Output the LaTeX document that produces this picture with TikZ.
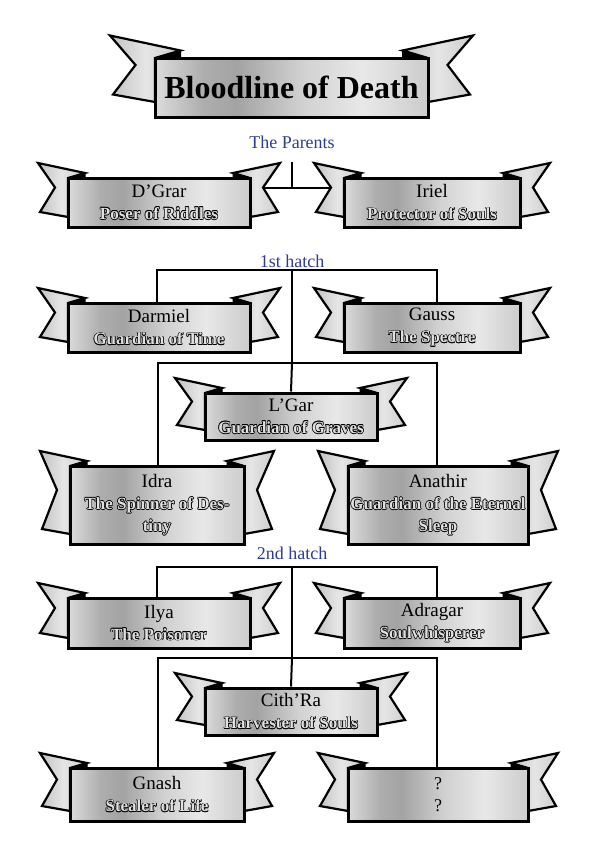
\documentclass[tikz,border=0pt]{standalone}
\usepackage{fontspec}
\setmainfont{Liberation Serif}
\usetikzlibrary{calc}
\pgfdeclarelayer{background}
\pgfsetlayers{background,main}
\definecolor{lblue}{HTML}{2E3C96}
\pgfdeclarehorizontalshading{silverbox}{100bp}{color(0bp)=(black!14); color(25bp)=(black!14); color(34bp)=(black!32); color(40bp)=(black!36); color(52bp)=(black!18); color(63bp)=(black!9); color(75bp)=(black!20); color(100bp)=(black!20)}
\pgfdeclarehorizontalshading{silvertail}{100bp}{color(0bp)=(black!24); color(25bp)=(black!24); color(50bp)=(black!10); color(75bp)=(black!20); color(100bp)=(black!20)}
\newcommand\outl[1]{{\setbox0\hbox{#1}%
  \rlap{\kern.6pt\color{black}\copy0}\rlap{\kern-.6pt\color{black}\copy0}%
  \rlap{\raise.6pt\hbox{\color{black}\copy0}}\rlap{\lower.6pt\hbox{\color{black}\copy0}}%
  \rlap{\kern.45pt\raise.45pt\hbox{\color{black}\copy0}}\rlap{\kern-.45pt\raise.45pt\hbox{\color{black}\copy0}}%
  \rlap{\kern.45pt\lower.45pt\hbox{\color{black}\copy0}}\rlap{\kern-.45pt\lower.45pt\hbox{\color{black}\copy0}}%
  {\color{black!12}\copy0}}}
\newcommand\namef{\fontsize{19}{22}\selectfont}
\newcommand\subf[1]{{\fontsize{17}{22}\selectfont\bfseries\outl{#1}}}
\newcommand\titlef{\fontsize{32}{36}\selectfont\bfseries}
\tikzset{
  x=1pt, y=-1pt,
  tail/.style={draw=black, line width=2.2pt, line join=miter, shading=silvertail},
  fold/.style={fill=black, draw=black, line width=1pt, line join=round},
  box/.style={draw=black, line width=3pt, shading=silverbox, inner sep=0pt, align=center,
    font=\fontsize{17}{22}\selectfont},
  lbl/.style={text=lblue, font=\fontsize{18}{18}\selectfont, inner sep=1pt},
  link/.style={draw=black, line width=2pt}
}
% #1 tail scale, #2 name, #3 cx, #4 cy, #5 width, #6 height, #7 text
\newcommand\banner[7][1]{%
  \pgfmathsetmacro\bL{#3-#5/2}%
  \pgfmathsetmacro\bR{#3+#5/2}%
  \pgfmathsetmacro\bT{#4-#6/2}%
  \pgfmathsetmacro\bB{#4+#6/2}%
  \pgfmathsetmacro\ts{#1}%
  \pgfmathsetmacro\bN{(\bT+\bB)/2-15*\ts}%
  \path[tail] (\bL+17*\ts,\bT-5*\ts) -- (\bL-30*\ts,\bT-15*\ts) -- (\bL-13*\ts,\bN)
     -- (\bL-28*\ts,\bB-15*\ts) -- (\bL,\bB-10*\ts) -- (\bL,\bT) -- cycle;
  \path[fold] (\bL,\bT) -- (\bL+17*\ts,\bT-5*\ts) -- (\bL+17*\ts,\bT) -- cycle;
  \path[tail] (\bR-17*\ts,\bT-5*\ts) -- (\bR+30*\ts,\bT-15*\ts) -- (\bR+13*\ts,\bN)
     -- (\bR+28*\ts,\bB-15*\ts) -- (\bR,\bB-10*\ts) -- (\bR,\bT) -- cycle;
  \path[fold] (\bR,\bT) -- (\bR-17*\ts,\bT-5*\ts) -- (\bR-17*\ts,\bT) -- cycle;
  \node[box, minimum width=#5 pt, minimum height=#6 pt] (#2) at (#3,#4) {#7};
}
\begin{document}
\begin{tikzpicture}
\useasboundingbox (0,0) rectangle (596,865);

% title
\banner[1.5]{title}{291.5}{87.5}{273}{59}{\titlef Bloodline of Death}

% parents
\node[lbl] (parents) at (292,142) {The Parents};
\banner{dgrar}{159}{202.5}{182}{49}{{\namef D'Grar}\\\subf{Poser of Riddles}}
\banner{iriel}{432}{202.5}{176}{49}{{\namef Iriel}\\\subf{Protector of Souls}}

% 1st hatch
\node[lbl] (hatch1) at (292,261) {1st hatch};
\banner{darmiel}{159}{327.5}{182}{49}{{\namef Darmiel}\\\subf{Guardian of Time}}
\banner{gauss}{432}{327.5}{176}{49}{{\namef Gauss}\\\subf{The Spectre}}
\banner{lgar}{291}{416.5}{172}{47}{{\namef L'Gar}\\\subf{Guardian of Graves}}
\banner{idra}{157}{505}{174}{78}{{\namef Idra}\\\subf{The Spinner of Des-}\\\subf{tiny}}
\banner{anathir}{438}{505}{180}{78}{{\namef Anathir}\\\subf{Guardian of the Eternal}\\\subf{Sleep}}

% 2nd hatch
\node[lbl] (hatch2) at (292,553) {2nd hatch};
\banner{ilya}{159}{623}{182}{50}{{\namef Ilya}\\\subf{The Poisoner}}
\banner{adragar}{432}{623}{176}{50}{{\namef Adragar}\\\subf{Soulwhisperer}}
\banner{cithra}{291}{711.5}{172}{47}{{\namef Cith'Ra}\\\subf{Harvester of Souls}}
\banner{gnash}{157}{794.5}{174}{53}{{\namef Gnash}\\\subf{Stealer of Life}}
\banner{unknown}{438}{794.5}{180}{53}{{\fontsize{18}{22}\selectfont ?}\\{\fontsize{18}{22}\selectfont ?}}

% connectors
\coordinate (pt) at (292,162);
\coordinate (pj) at (292,188);
\coordinate (h1) at (292,270);
\coordinate (h1L) at (157,270);
\coordinate (h1R) at (437,270);
\coordinate (h2) at (292,363);
\coordinate (h2L) at (158,363);
\coordinate (h2R) at (437,363);
\coordinate (h3) at (292,567);
\coordinate (h3L) at (157,567);
\coordinate (h3R) at (437,567);
\coordinate (h4) at (292,658);
\coordinate (h4L) at (158,658);
\coordinate (h4R) at (437,658);
\begin{pgfonlayer}{background}
\draw[link] (pt) -- (pj);
\draw[link] (dgrar.east |- pj) -- (iriel.west |- pj);
\draw[link] (h1L |- darmiel.north) -- (h1L) -- (h1R) -- (h1R |- gauss.north);
\draw[link] (h1) -- (h2);
\draw[link] (h2L |- idra.north) -- (h2L) -- (h2R) -- (h2R |- anathir.north);
\draw[link] (h2) -- (lgar.north);
\draw[link] (h3L |- ilya.north) -- (h3L) -- (h3R) -- (h3R |- adragar.north);
\draw[link] (h3) -- (h4);
\draw[link] (h4L |- gnash.north) -- (h4L) -- (h4R) -- (h4R |- unknown.north);
\draw[link] (h4) -- (cithra.north);
\end{pgfonlayer}
\end{tikzpicture}
\end{document}
